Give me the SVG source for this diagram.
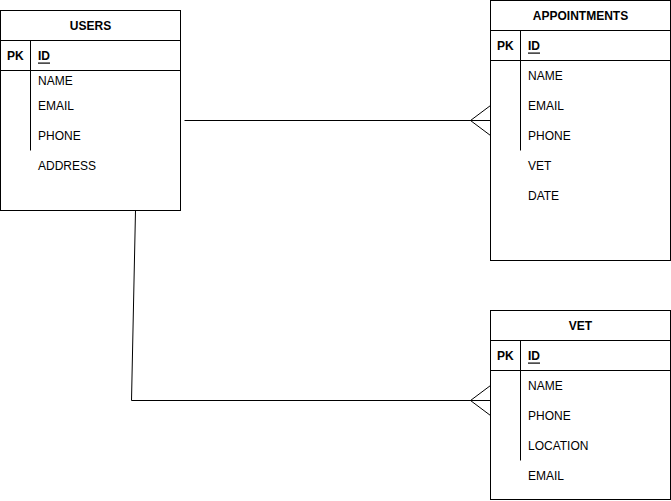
<svg xmlns="http://www.w3.org/2000/svg" width="671" height="501" viewBox="0 0 671 501">
  <style>
    .box { fill: #ffffff; stroke: #000000; stroke-width: 1; }
    .line { fill: none; stroke: #000000; stroke-width: 1; }
    text { font-family: "Liberation Sans", Arial, sans-serif; font-size: 12px; fill: #000000; dominant-baseline: central; }
    .title { font-weight: bold; text-anchor: middle; }
    .pk { font-weight: bold; }
    .key { text-decoration: underline; font-weight: bold; }
  </style>
  <rect width="671" height="501" fill="#ffffff"/>

  <g id="connectors">
    <!-- USERS to APPOINTMENTS, many side at APPOINTMENTS -->
    <path class="line" d="M184.5,120.5 H490.5"/>
    <path class="line" d="M490.5,105.5 L470.5,120.5 L490.5,135.5"/>
    <!-- USERS to VET, many side at VET -->
    <path class="line" d="M135.5,210.5 L131.5,400.5 H490.5"/>
    <path class="line" d="M490.5,385.5 L470.5,400.5 L490.5,415.5"/>
  </g>

  <g id="users">
    <rect class="box" x="0.5" y="10.5" width="180" height="200"/>
    <path class="line" d="M0.5,40.5 H180.5 M0.5,70.5 H180.5 M30.5,40.5 V150.5"/>
    <text class="title" x="90.5" y="25.5">USERS</text>
    <text class="pk" x="7" y="55.5">PK</text>
    <text class="key" x="38" y="55.5">ID</text>
    <text x="38" y="80.5">NAME</text>
    <text x="38" y="105.5">EMAIL</text>
    <text x="38" y="135.5">PHONE</text>
    <text x="38" y="165.5">ADDRESS</text>
  </g>

  <g id="appointments">
    <rect class="box" x="490.5" y="0.5" width="180" height="260"/>
    <path class="line" d="M490.5,30.5 H670.5 M490.5,60.5 H670.5 M520.5,30.5 V150.5"/>
    <text class="title" x="580.5" y="15.5">APPOINTMENTS</text>
    <text class="pk" x="497" y="45.5">PK</text>
    <text class="key" x="528" y="45.5">ID</text>
    <text x="528" y="75.5">NAME</text>
    <text x="528" y="105.5">EMAIL</text>
    <text x="528" y="135.5">PHONE</text>
    <text x="528" y="165.5">VET</text>
    <text x="528" y="195.5">DATE</text>
  </g>

  <g id="vet">
    <rect class="box" x="490.5" y="310.5" width="180" height="189"/>
    <path class="line" d="M490.5,340.5 H670.5 M490.5,370.5 H670.5 M520.5,340.5 V460.5"/>
    <text class="title" x="580.5" y="325.5">VET</text>
    <text class="pk" x="497" y="355.5">PK</text>
    <text class="key" x="528" y="355.5">ID</text>
    <text x="528" y="385.5">NAME</text>
    <text x="528" y="415.5">PHONE</text>
    <text x="528" y="445.5">LOCATION</text>
    <text x="528" y="475.5">EMAIL</text>
  </g>
</svg>
